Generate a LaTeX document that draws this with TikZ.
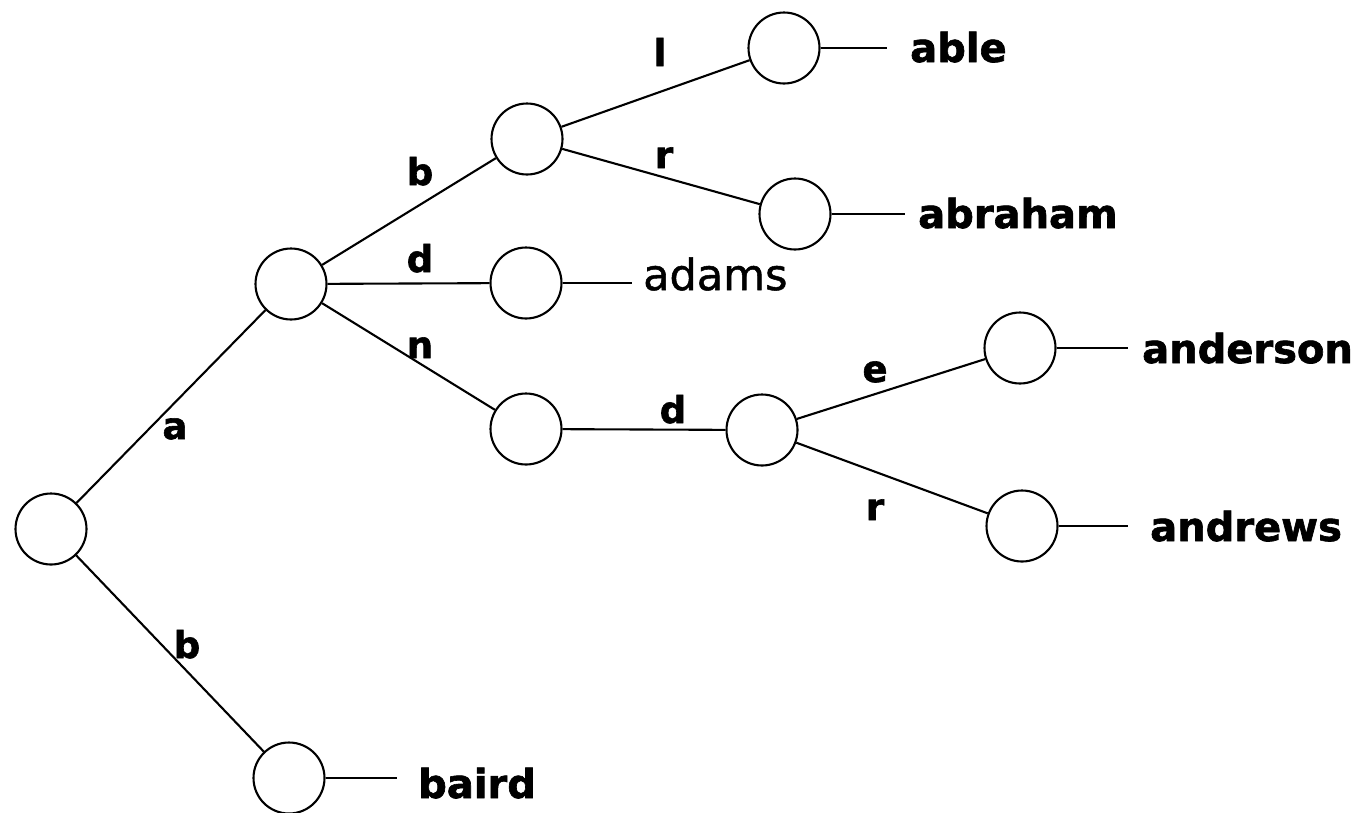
\documentclass[tikz,border=0pt]{standalone}
\usepackage{fontspec}
\setmainfont{DejaVu Sans}[BoldFeatures={FakeBold=1.6}]
\newfontfamily\mediumfont{DejaVu Sans}[FakeBold=1.2]
\begin{document}
\begin{tikzpicture}[x=1pt,y=-1pt,
  state/.style={circle,draw,line width=2.1pt,minimum size=71pt,inner sep=0pt},
  edge/.style={line width=2.1pt},
  word/.style={anchor=base west,inner sep=0pt,font=\fontsize{40}{48}\selectfont\bfseries},
  plainword/.style={anchor=base west,inner sep=0pt,font=\fontsize{43}{52}\selectfont\mediumfont},
  letter/.style={anchor=base,inner sep=0pt,font=\fontsize{37}{44}\selectfont\bfseries}]
\useasboundingbox (0,0) rectangle (1364,812);

% trie states
\node[state] (root) at (51,529) {};
\node[state] (a)    at (291,284) {};
\node[state] (b)    at (289,778) {};
\node[state] (ab)   at (527,139) {};
\node[state] (ad)   at (526,283) {};
\node[state] (an)   at (526,429) {};
\node[state] (abl)  at (784,48) {};
\node[state] (abr)  at (795,214) {};
\node[state] (and)  at (762,430) {};
\node[state] (ande) at (1020,348) {};
\node[state] (andr) at (1022,526) {};

% transitions
\draw[edge] (root) -- (a);
\draw[edge] (root) -- (b);
\draw[edge] (a) -- (ab);
\draw[edge] (a) -- (ad);
\draw[edge] (a) -- (an);
\draw[edge] (ab) -- (abl);
\draw[edge] (ab) -- (abr);
\draw[edge] (an) -- (and);
\draw[edge] (and) -- (ande);
\draw[edge] (and) -- (andr);

% transition letters
\node[letter] (la)   at (175,439) {a};
\node[letter] (lb)   at (187,658) {b};
\node[letter] (lab)  at (420,185) {b};
\node[letter] (lad)  at (420,272) {d};
\node[letter] (lan)  at (420,358) {n};
\node[letter] (labl) at (660,66) {l};
\node[letter] (labr) at (664,168) {r};
\node[letter] (land) at (673,423) {d};
\node[letter] (lane) at (875,382) {e};
\node[letter] (lanr) at (875,520) {r};

% stored words
\node[word] (wable)     at (910,62) {able};
\node[word] (wabraham)  at (918,228) {abraham};
\node[plainword] (wadams) at (643,290) {adams};
\node[word] (wanderson) at (1142,363) {anderson};
\node[word] (wandrews)  at (1150,541) {andrews};
\node[word] (wbaird)    at (418,798) {baird};

% leaders from final states to words
\coordinate (eable)     at (887,48);
\coordinate (eabraham)  at (905,214);
\coordinate (eadams)    at (632,283);
\coordinate (eanderson) at (1128,348);
\coordinate (eandrews)  at (1128,526);
\coordinate (ebaird)    at (397,778);
\draw[edge] (abl)  -- (eable);
\draw[edge] (abr)  -- (eabraham);
\draw[edge] (ad)   -- (eadams);
\draw[edge] (ande) -- (eanderson);
\draw[edge] (andr) -- (eandrews);
\draw[edge] (b)    -- (ebaird);
\end{tikzpicture}
\end{document}
